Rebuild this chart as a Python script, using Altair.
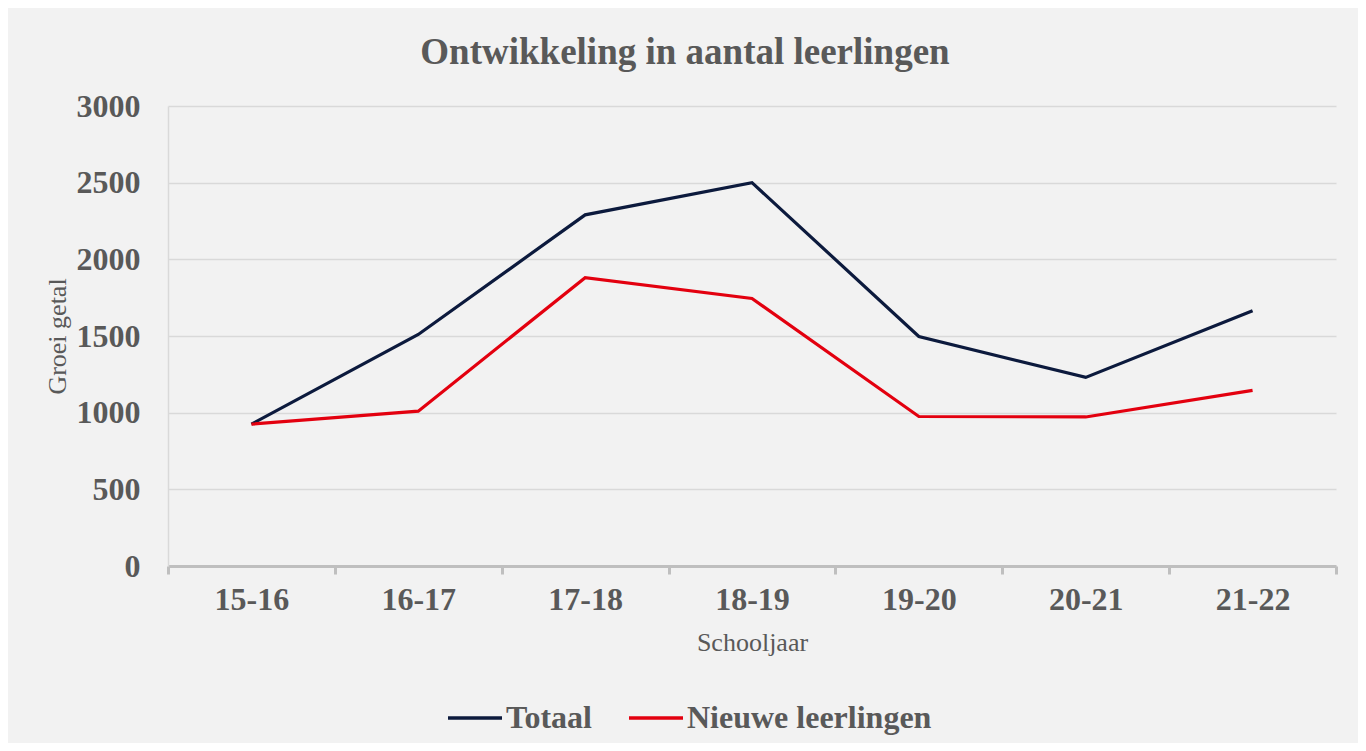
import altair as alt
import pandas as pd

years = ["15-16", "16-17", "17-18", "18-19", "19-20", "20-21", "21-22"]
totaal = [925, 1510, 2290, 2500, 1497, 1230, 1665]
nieuw = [925, 1010, 1880, 1745, 975, 972, 1145]
series = ["Totaal", "Nieuwe leerlingen"]
y_ticks = [0, 500, 1000, 1500, 2000, 2500, 3000]

rows = []
for s, vals in zip(series, [totaal, nieuw]):
    for yr, v in zip(years, vals):
        rows.append({"Schooljaar": yr, "waarde": v, "reeks": s})
df = pd.DataFrame(rows)

GRAY = "#595959"
FONT = "Liberation Serif"

chart = alt.Chart(df).mark_line(strokeWidth=3.2).encode(
    x=alt.X(
        "Schooljaar:N",
        sort=years,
        bandPosition=0.5,
        scale=alt.Scale(type="band", paddingInner=0, paddingOuter=0),
        axis=alt.Axis(
            title="Schooljaar",
            labelAngle=0,
            grid=False,
            domainColor="#bfbfbf",
            domainWidth=3,
            ticks=True,
            tickColor="#bfbfbf",
            tickWidth=3,
            tickSize=8,
            tickBand="extent",
            labelFont=FONT,
            labelFontSize=32,
            labelFontWeight="bold",
            labelColor=GRAY,
            labelPadding=10,
            titleFont=FONT,
            titleFontSize=26,
            titleFontWeight="normal",
            titleColor=GRAY,
            titlePadding=14,
        ),
    ),
    y=alt.Y(
        "waarde:Q",
        scale=alt.Scale(domain=[0, 3000]),
        axis=alt.Axis(
            title="Groei getal",
            values=y_ticks,
            format="d",
            grid=True,
            gridColor="#d9d9d9",
            gridWidth=1.5,
            domain=True,
            domainColor="#d9d9d9",
            domainWidth=1.5,
            ticks=False,
            labelFont=FONT,
            labelFontSize=32,
            labelFontWeight="bold",
            labelColor=GRAY,
            labelPadding=28,
            titleFont=FONT,
            titleFontSize=26,
            titleFontWeight="normal",
            titleColor=GRAY,
            titlePadding=6,
        ),
    ),
    color=alt.Color(
        "reeks:N",
        sort=series,
        scale=alt.Scale(domain=series, range=["#0c1a3d", "#e3000f"]),
        legend=alt.Legend(
            title=None,
            orient="none",
            legendX=278,
            legendY=583,
            direction="horizontal",
            symbolType="stroke",
            symbolSize=2916,
            symbolStrokeWidth=3.5,
            labelFont=FONT,
            labelFontSize=32,
            labelFontWeight="bold",
            labelColor=GRAY,
            labelOffset=2,
            labelLimit=400,
            columnPadding=30,
        ),
    ),
).properties(
    width=1168,
    height=460,
    autosize="none",
    padding={"left": 160, "top": 98, "right": 22, "bottom": 177},
    background="#f2f2f2",
    title=alt.Title(
        "Ontwikkeling in aantal leerlingen",
        font=FONT,
        fontSize=37,
        fontWeight="bold",
        color=GRAY,
        anchor="middle",
        dx=-67,
        offset=18,
    ),
).configure_view(stroke=None)

chart.save("out.html", embed_options={"renderer": "svg", "actions": False})
